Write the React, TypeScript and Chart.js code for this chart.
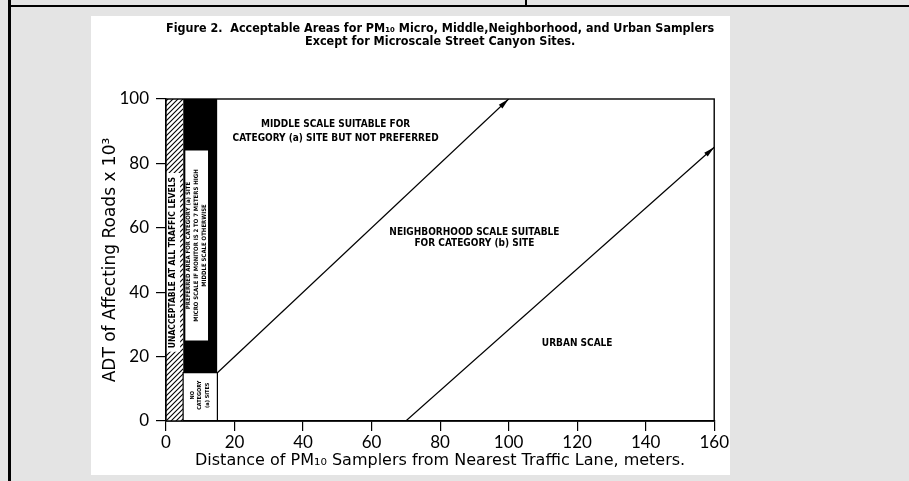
import React, { useEffect, useRef } from "react";
import { Chart, registerables } from "chart.js";

Chart.register(...registerables);

// ---------- axes ----------
const X_MIN = 0;
const X_MAX = 160;
const X_STEP = 20;
const Y_MIN = 0;
const Y_MAX = 100;
const Y_STEP = 20;

// ---------- texts ----------
const TITLE_LINES = [
  "Figure 2.  Acceptable Areas for PM₁₀ Micro, Middle,Neighborhood, and Urban Samplers",
  "Except for Microscale Street Canyon Sites.",
];
const X_TITLE = "Distance of PM₁₀ Samplers from Nearest Traffic Lane, meters.";
const Y_TITLE = "ADT of Affecting Roads x 10³";

// ---------- zones (data units: meters, ADT x 10^3) ----------
const UNACCEPTABLE_X = [0, 5];
const UNACCEPTABLE_Y = [0, 100];
const UNACCEPTABLE_NOTE_X = [0, 4.2];
const UNACCEPTABLE_NOTE_Y = [21.5, 77];
const PREFERRED_X = [5, 15];
const PREFERRED_Y = [15, 100];
const PREFERRED_NOTE_X = [5.6, 12.3];
const PREFERRED_NOTE_Y = [25, 84];
const NO_CATEGORY_X = [5, 15];
const NO_CATEGORY_Y = [0, 15];

// ---------- boundary lines ----------
const MIDDLE_LIMIT_X = [15, 100];
const MIDDLE_LIMIT_Y = [15, 100];
const URBAN_LIMIT_X = [70, 160];
const URBAN_LIMIT_Y = [0, 85];

// ---------- horizontal area labels ----------
const AREA_LABEL_TEXT = [
  "MIDDLE SCALE SUITABLE FOR",
  "CATEGORY (a) SITE BUT NOT PREFERRED",
  "NEIGHBORHOOD SCALE SUITABLE",
  "FOR CATEGORY (b) SITE",
  "URBAN SCALE",
];
const AREA_LABEL_X = [49.5, 49.5, 90, 90, 120];
const AREA_LABEL_Y = [92.2, 87.9, 58.7, 55, 24];

// ---------- vertical (rotated) zone labels ----------
const ZONE_LABEL_TEXT = [
  "UNACCEPTABLE AT ALL TRAFFIC LEVELS",
  "PREFERRED AREA FOR CATEGORY (a) SITE",
  "MICRO SCALE IF MONITOR IS 2 TO 7 METERS HIGH",
  "MIDDLE SCALE OTHERWISE",
  "NO",
  "CATEGORY",
  "(a) SITES",
];
const ZONE_LABEL_X = [2.1, 6.6, 8.9, 11.1, 7.7, 9.8, 12];
const ZONE_LABEL_Y = [49.2, 54.5, 54.5, 54.5, 8, 8, 8];
const ZONE_LABEL_SIZE = [8.5, 6, 6, 6, 5.5, 5.5, 5.5];

const CONDENSED = '"DejaVu Sans Condensed", "DejaVu Sans", sans-serif';
const TICK_FONT = 'Lato, "Open Sans", sans-serif';
const AXIS_TITLE_FONT = '"DejaVu Sans", sans-serif';

const pts = (xs: number[], ys: number[]) => xs.map((x, i) => ({ x, y: ys[i] }));

const framePlugin = {
  id: "frame",
  afterDatasetsDraw(chart: any) {
    const { ctx, chartArea } = chart;
    ctx.save();
    ctx.strokeStyle = "#000";
    ctx.lineWidth = 1.4;
    ctx.strokeRect(chartArea.left, chartArea.top, chartArea.right - chartArea.left, chartArea.bottom - chartArea.top);
    ctx.restore();
  },
};

const arrowPlugin = {
  id: "arrows",
  afterDatasetsDraw(chart: any) {
    const { ctx } = chart;
    chart.data.datasets.forEach((ds: any, i: number) => {
      if (!ds.arrow) return;
      const meta = chart.getDatasetMeta(i);
      const n = meta.data.length;
      if (n < 2) return;
      const a = meta.data[n - 2];
      const b = meta.data[n - 1];
      const ang = Math.atan2(b.y - a.y, b.x - a.x);
      const len = 11;
      const half = 2.6;
      ctx.save();
      ctx.translate(b.x, b.y);
      ctx.rotate(ang);
      ctx.fillStyle = "#000";
      ctx.beginPath();
      ctx.moveTo(0, 0);
      ctx.lineTo(-len, -half);
      ctx.lineTo(-len, half);
      ctx.closePath();
      ctx.fill();
      ctx.restore();
    });
  },
};

const textPlugin = {
  id: "areaText",
  afterDatasetsDraw(chart: any) {
    const { ctx, scales } = chart;
    const xs = scales.x;
    const ys = scales.y;
    ctx.save();
    ctx.fillStyle = "#000";
    ctx.textAlign = "center";
    ctx.textBaseline = "middle";
    ctx.font = `bold 10px ${CONDENSED}`;
    AREA_LABEL_TEXT.forEach((t, i) => {
      ctx.fillText(t, xs.getPixelForValue(AREA_LABEL_X[i]), ys.getPixelForValue(AREA_LABEL_Y[i]));
    });
    ZONE_LABEL_TEXT.forEach((t, i) => {
      ctx.save();
      ctx.translate(xs.getPixelForValue(ZONE_LABEL_X[i]), ys.getPixelForValue(ZONE_LABEL_Y[i]));
      ctx.rotate(-Math.PI / 2);
      ctx.font = `bold ${ZONE_LABEL_SIZE[i]}px ${CONDENSED}`;
      ctx.fillText(t, 0, 0);
      ctx.restore();
    });
    ctx.restore();
  },
};

function makeHatch(ctx: CanvasRenderingContext2D) {
  const s = 5;
  const pc = document.createElement("canvas");
  pc.width = s;
  pc.height = s;
  const p = pc.getContext("2d")!;
  p.fillStyle = "#fff";
  p.fillRect(0, 0, s, s);
  p.strokeStyle = "#000";
  p.lineWidth = 1.1;
  p.beginPath();
  p.moveTo(-1, s + 1);
  p.lineTo(s + 1, -1);
  p.moveTo(-1, 1);
  p.lineTo(1, -1);
  p.moveTo(s - 1, s + 1);
  p.lineTo(s + 1, s - 1);
  p.stroke();
  return ctx.createPattern(pc, "repeat");
}

export default function App() {
  const ref = useRef<HTMLCanvasElement | null>(null);

  useEffect(() => {
    const canvas = ref.current;
    if (!canvas) return;
    const ctx = canvas.getContext("2d")!;
    const hatch = makeHatch(ctx);

    const base = { pointRadius: 0, tension: 0, borderWidth: 0, borderColor: "rgba(0,0,0,0)" };

    const chart = new Chart(canvas, {
      type: "line",
      data: {
        datasets: [
          {
            ...base,
            label: "Middle scale limit",
            data: pts(MIDDLE_LIMIT_X, MIDDLE_LIMIT_Y),
            borderColor: "#000",
            borderWidth: 1.2,
            fill: false,
            order: 1,
            arrow: true,
          } as any,
          {
            ...base,
            label: "Urban scale limit",
            data: pts(URBAN_LIMIT_X, URBAN_LIMIT_Y),
            borderColor: "#000",
            borderWidth: 1.2,
            fill: false,
            order: 1,
            arrow: true,
          } as any,
          {
            ...base,
            label: "No category box",
            data: [
              { x: NO_CATEGORY_X[0], y: NO_CATEGORY_Y[0] },
              { x: NO_CATEGORY_X[0], y: NO_CATEGORY_Y[1] },
              { x: NO_CATEGORY_X[1], y: NO_CATEGORY_Y[1] },
              { x: NO_CATEGORY_X[1], y: NO_CATEGORY_Y[0] },
            ],
            borderColor: "#000",
            borderWidth: 1.2,
            fill: false,
            order: 3,
          },
          {
            ...base,
            label: "Preferred note",
            data: pts(PREFERRED_NOTE_X, [PREFERRED_NOTE_Y[1], PREFERRED_NOTE_Y[1]]),
            fill: { value: PREFERRED_NOTE_Y[0] },
            backgroundColor: "#fff",
            order: 5,
          },
          {
            ...base,
            label: "Unacceptable note",
            data: pts(UNACCEPTABLE_NOTE_X, [UNACCEPTABLE_NOTE_Y[1], UNACCEPTABLE_NOTE_Y[1]]),
            fill: { value: UNACCEPTABLE_NOTE_Y[0] },
            backgroundColor: "#fff",
            order: 5,
          },
          {
            ...base,
            label: "Preferred area",
            data: pts(PREFERRED_X, [PREFERRED_Y[1], PREFERRED_Y[1]]),
            fill: { value: PREFERRED_Y[0] },
            backgroundColor: "#000",
            order: 8,
          },
          {
            ...base,
            label: "Unacceptable",
            data: pts(UNACCEPTABLE_X, [UNACCEPTABLE_Y[1], UNACCEPTABLE_Y[1]]),
            fill: { value: UNACCEPTABLE_Y[0] },
            backgroundColor: hatch as any,
            order: 10,
          },
        ],
      },
      options: {
        animation: false,
        responsive: false,
        events: [],
        layout: { padding: 0 },
        plugins: {
          legend: { display: false },
          tooltip: { enabled: false },
          title: {
            display: true,
            fullSize: false,
            text: TITLE_LINES,
            color: "#000",
            font: { family: CONDENSED, size: 12.5, weight: "bold", lineHeight: 1.0 },
            padding: { top: 6.75, bottom: 51.25 },
          },
        },
        scales: {
          x: {
            type: "linear",
            min: X_MIN,
            max: X_MAX,
            ticks: { stepSize: X_STEP, color: "#000", font: { family: TICK_FONT, size: 17 }, padding: 1, maxRotation: 0 },
            grid: { display: true, drawOnChartArea: false, drawTicks: true, tickLength: 10, color: "#000", lineWidth: 1.2 },
            border: { display: true, color: "#000", width: 1.4 },
            title: {
              display: true,
              text: X_TITLE,
              color: "#000",
              font: { family: AXIS_TITLE_FONT, size: 16 },
              padding: { top: 0, bottom: 5 },
            },
            afterFit: (s: any) => {
              s.height = 54;
            },
          },
          y: {
            type: "linear",
            min: Y_MIN,
            max: Y_MAX,
            ticks: { stepSize: Y_STEP, color: "#000", font: { family: TICK_FONT, size: 17 }, padding: 7 },
            grid: { display: true, drawOnChartArea: false, drawTicks: true, tickLength: 10, color: "#000", lineWidth: 1.2 },
            border: { display: true, color: "#000", width: 1.4 },
            title: {
              display: true,
              text: Y_TITLE,
              color: "#000",
              font: { family: AXIS_TITLE_FONT, size: 17 },
              padding: { top: 9, bottom: 0 },
            },
            afterFit: (s: any) => {
              s.width = 75;
            },
          },
        },
      } as any,
      plugins: [framePlugin, arrowPlugin, textPlugin],
    });

    return () => chart.destroy();
  }, []);

  return (
    <div style={{ position: "fixed", left: 0, top: 0, width: 909, height: 481, background: "#e4e4e4", overflow: "hidden" }}>
      <div style={{ position: "absolute", left: 8, top: 0, width: 3, height: 481, background: "#000" }} />
      <div style={{ position: "absolute", left: 8, top: 5, width: 901, height: 2, background: "#000" }} />
      <div style={{ position: "absolute", left: 525, top: 0, width: 2, height: 6, background: "#000" }} />
      <div style={{ position: "absolute", left: 91, top: 16, width: 639, height: 459, background: "#fff" }}>
        <canvas ref={ref} width={639} height={459} style={{ display: "block" }} />
      </div>
    </div>
  );
}
